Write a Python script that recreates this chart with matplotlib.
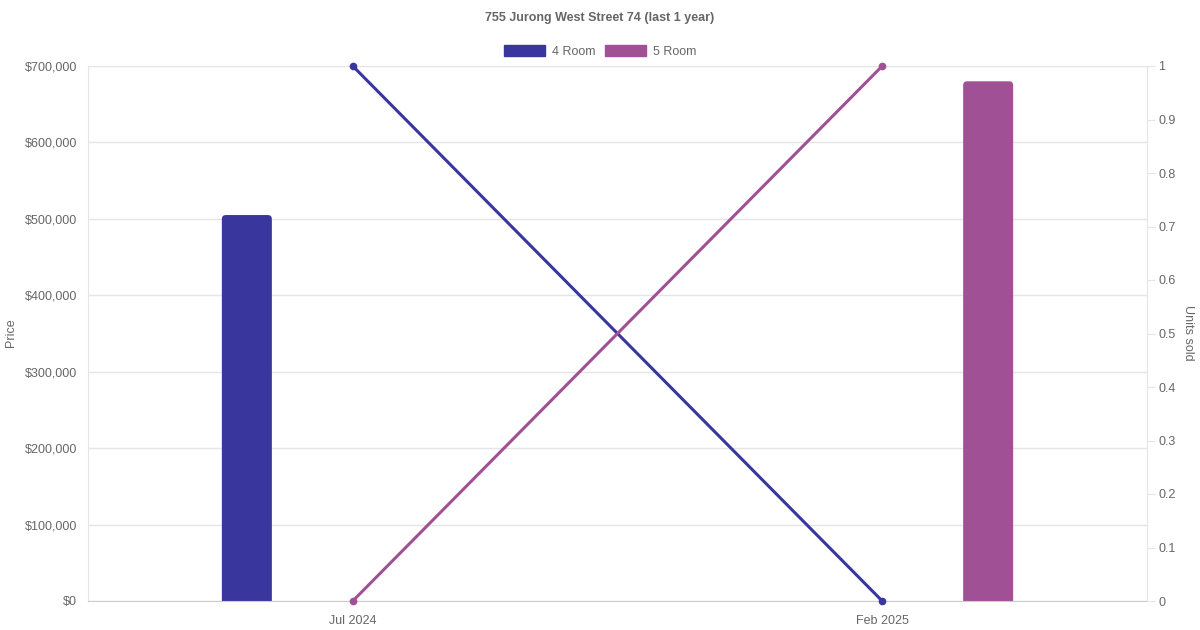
import matplotlib as mpl
mpl.use('Agg')
import matplotlib.pyplot as plt
from matplotlib.patches import Patch, FancyBboxPatch
import numpy as np

plt.rcParams['font.family'] = ['Liberation Sans', 'DejaVu Sans']

# data
months = ["Jul 2024", "Feb 2025"]
flat_types = ["4 Room", "5 Room"]
colors = ["#39369d", "#a05195"]
price_4room = [505000, None]
price_5room = [None, 680000]
units_4room = [1, 0]
units_5room = [0, 1]
price_ticks = [0, 100000, 200000, 300000, 400000, 500000, 600000, 700000]
unit_ticks = [0, 0.1, 0.2, 0.3, 0.4, 0.5, 0.6, 0.7, 0.8, 0.9, 1]

text_col = "#666666"
grid_col = "#e5e5e5"

W, H = 1200, 630
fig = plt.figure(figsize=(12, 6.3), dpi=100)
ax = fig.add_axes([88 / W, (H - 601) / H, (1147 - 88) / W, (601 - 66) / H])
ax2 = ax.twinx()

x = np.arange(len(months))
bar_w = 50 / 529.5
offsets = [-0.2, 0.2]

ax.set_xlim(-0.5, len(months) - 0.5)
ax.set_ylim(0, 700000)

# px -> data scale, for rounded bar corners
px_x = 1 / 529.5
px_y = 700000 / 535
radius = 4

for prices, off, col in zip([price_4room, price_5room], offsets, colors):
    for xi, p in zip(x, prices):
        if p is None:
            continue
        left = xi + off - bar_w / 2
        # rounded box; the bottom corners go below 0 and get clipped by the axes
        bottom = -20 * px_y
        rb = FancyBboxPatch((left + radius * px_x, bottom + radius * px_y),
                            bar_w - 2 * radius * px_x, p - bottom - 2 * radius * px_y,
                            boxstyle="round,pad=%f,rounding_size=%f" % (radius * px_x, radius * px_x),
                            mutation_aspect=px_y / px_x, facecolor=col, edgecolor='none', zorder=2)
        ax.add_patch(rb)

ax.set_yticks(price_ticks)
ax.set_yticklabels(["$" + format(v, ",") for v in price_ticks])
ax.set_xticks(x)
ax.set_xticklabels(months)
ax.grid(axis='y', color=grid_col, linewidth=1, zorder=0)
ax.set_axisbelow(True)
ax.tick_params(axis='y', length=0, pad=8, colors=text_col, labelsize=9)
ax.tick_params(axis='x', length=0, pad=10, colors=text_col, labelsize=9)

for s in ['top', 'right']:
    ax.spines[s].set_visible(False)
ax.spines['left'].set_color(grid_col)
ax.spines['bottom'].set_color("#cccccc")

# units sold on the right axis
for units, col in zip([units_4room, units_5room], colors):
    ax2.plot(x, units, color=col, linewidth=2.2, marker='o', markersize=4.5, zorder=3,
             clip_on=False)
ax2.set_ylim(0, 1)
ax2.set_yticks(unit_ticks)
ax2.set_yticklabels([format(v, 'g') for v in unit_ticks])
ax2.tick_params(axis='y', length=6, pad=2, labelcolor=text_col, color=grid_col, labelsize=9)
for s in ['top', 'left', 'bottom']:
    ax2.spines[s].set_visible(False)
ax2.spines['right'].set_color(grid_col)

fig.text(11 / W, 1 - 333 / H, "Price", rotation=90, ha='center', va='center',
         fontsize=9, color=text_col)
fig.text(1188 / W, 1 - 333 / H, "Units sold", rotation=270, ha='center', va='center',
         fontsize=9, color=text_col)

fig.text(0.5, 1 - 17.5 / H, "755 Jurong West Street 74 (last 1 year)", ha='center', va='center',
         fontsize=9, fontweight='bold', color=text_col)

handles = [Patch(facecolor=c, edgecolor=c, label=t) for c, t in zip(colors, flat_types)]
fig.legend(handles=handles, loc='center', bbox_to_anchor=(0.5, 1 - 51.5 / H), ncol=2, frameon=False,
           handlelength=3.3, handleheight=1.0, handletextpad=0.5, columnspacing=0.8,
           fontsize=9, labelcolor=text_col)

fig.savefig("out.png", dpi=100)
